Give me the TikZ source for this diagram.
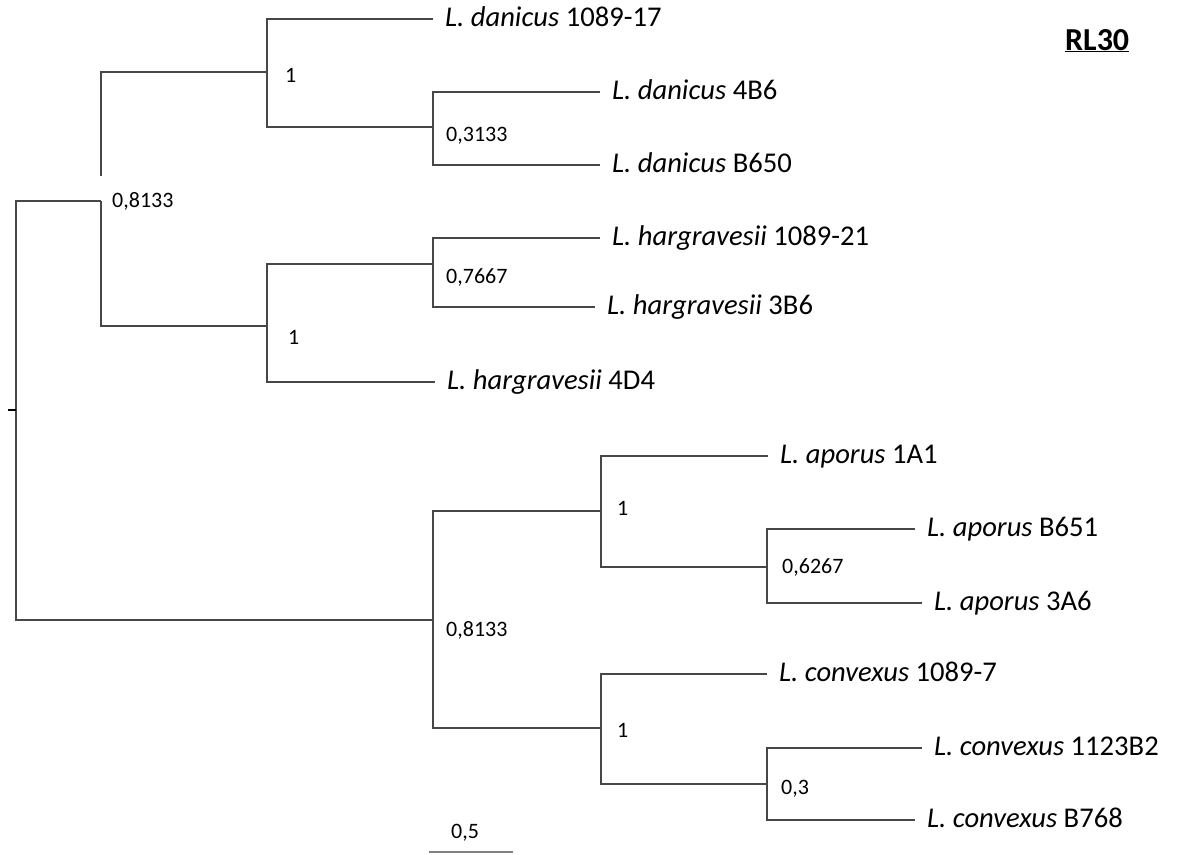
\documentclass[tikz,border=0pt]{standalone}
\usepackage{fontspec}
\setmainfont{Carlito}
\begin{document}
\begin{tikzpicture}[x=1pt,y=-1pt,
  branch/.style={draw=black!72, line width=1.3pt},
  leaf/.style={anchor=base west, inner sep=0pt, font=\fontsize{28.6}{32}\selectfont},
  support/.style={anchor=base west, inner sep=0pt, font=\fontsize{22}{26}\selectfont},
]
\useasboundingbox (0,0) rectangle (1180,854);

% internal nodes of the tree
\coordinate (stem) at (8,410);
\coordinate (root) at (16,410);
\coordinate (U)    at (101,201);
\coordinate (D)    at (267,72);
\coordinate (Dsub) at (433,127);
\coordinate (H)    at (267,326);
\coordinate (Hsub) at (433,264);
\coordinate (W)    at (433,620);
\coordinate (A)    at (601,511);
\coordinate (Asub) at (767,567);
\coordinate (C)    at (601,728);
\coordinate (Csub) at (767,784);

% branch tips
\coordinate (t1)  at (433,19);
\coordinate (t2)  at (600,92);
\coordinate (t3)  at (600,165);
\coordinate (t4)  at (600,238);
\coordinate (t5)  at (595,307);
\coordinate (t6)  at (435,382);
\coordinate (t7)  at (768,456);
\coordinate (t8)  at (915,529);
\coordinate (t9)  at (922,603);
\coordinate (t10) at (767,674);
\coordinate (t11) at (922,748);
\coordinate (t12) at (915,820);

% upper part of the first clade (drawn before its support label)
\draw[branch] (U) |- (D);
\draw[branch] (D) |- (t1);
\draw[branch] (D) |- (Dsub);
\draw[branch] (Dsub) |- (t2);
\draw[branch] (Dsub) |- (t3);

% support value in a white box laid over the branch
\node[support, fill=white, inner xsep=12pt, inner ysep=0pt, text height=31pt, text depth=0pt]
  (sU) at (100,207) {0,8133};

% remaining branches
\draw[branch] (U) |- (H);
\draw[branch] (H) |- (Hsub);
\draw[branch] (H) |- (t6);
\draw[branch] (Hsub) |- (t4);
\draw[branch] (Hsub) |- (t5);
\draw[branch] (root) |- (U);
\draw[branch] (root) |- (W);
\draw[branch] (W) |- (A);
\draw[branch] (W) |- (C);
\draw[branch] (A) |- (t7);
\draw[branch] (A) |- (Asub);
\draw[branch] (Asub) |- (t8);
\draw[branch] (Asub) |- (t9);
\draw[branch] (C) |- (t10);
\draw[branch] (C) |- (Csub);
\draw[branch] (Csub) |- (t11);
\draw[branch] (Csub) |- (t12);
\draw[line width=1.3pt] (stem) -- (root);

% taxon labels
\node[leaf] (n1)  at ([xshift=12pt,yshift=-7pt]t1)  {\textit{L. danicus} 1089-17};
\node[leaf] (n2)  at ([xshift=12pt,yshift=-7pt]t2)  {\textit{L. danicus} 4B6};
\node[leaf] (n3)  at ([xshift=12pt,yshift=-7pt]t3)  {\textit{L. danicus} B650};
\node[leaf] (n4)  at ([xshift=12pt,yshift=-7pt]t4)  {\textit{L. hargravesii} 1089-21};
\node[leaf] (n5)  at ([xshift=12pt,yshift=-7pt]t5)  {\textit{L. hargravesii} 3B6};
\node[leaf] (n6)  at ([xshift=12pt,yshift=-7pt]t6)  {\textit{L. hargravesii} 4D4};
\node[leaf] (n7)  at ([xshift=12pt,yshift=-7pt]t7)  {\textit{L. aporus} 1A1};
\node[leaf] (n8)  at ([xshift=12pt,yshift=-7pt]t8)  {\textit{L. aporus} B651};
\node[leaf] (n9)  at ([xshift=12pt,yshift=-7pt]t9)  {\textit{L. aporus} 3A6};
\node[leaf] (n10) at ([xshift=12pt,yshift=-7pt]t10) {\textit{L. convexus} 1089-7};
\node[leaf] (n11) at ([xshift=12pt,yshift=-7pt]t11) {\textit{L. convexus} 1123B2};
\node[leaf] (n12) at ([xshift=12pt,yshift=-7pt]t12) {\textit{L. convexus} B768};

% support values
\node[support] (sD)    at (285,82)  {1};
\node[support] (sDsub) at (446,141) {0,3133};
\node[support] (sHsub) at (446,283) {0,7667};
\node[support] (sH)    at (288,344) {1};
\node[support] (sW)    at (446,636) {0,8133};
\node[support] (sA)    at (617,515) {1};
\node[support] (sAsub) at (782,573) {0,6267};
\node[support] (sC)    at (617,737) {1};
\node[support] (sCsub) at (781,794) {0,3};

% scale bar
\coordinate (sb1) at (429,852);
\coordinate (sb2) at (513,852);
\draw[draw=black!50, line width=1.3pt] (sb1) -- (sb2);
\node[support, anchor=base] (sblab) at (465,838) {0,5};

% panel title
\node[anchor=base west, inner sep=0pt, font=\fontsize{32}{36}\selectfont\bfseries]
  (title) at (1065,50) {\underline{RL30}};
\end{tikzpicture}
\end{document}
